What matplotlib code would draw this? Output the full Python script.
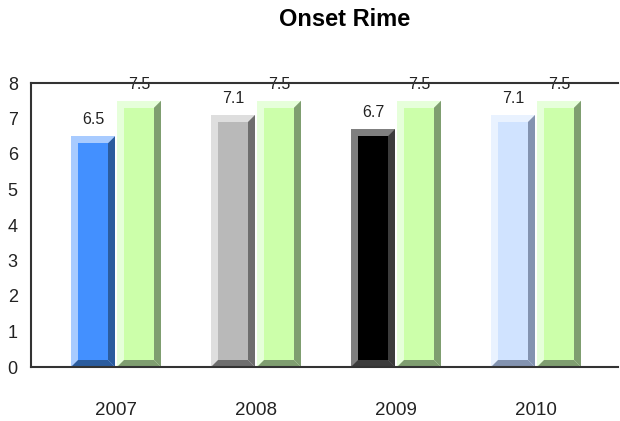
import numpy as np
import matplotlib
matplotlib.use('Agg')
import matplotlib.pyplot as plt
from matplotlib.patches import Polygon, Rectangle

plt.rcParams['font.family'] = ['Liberation Sans', 'DejaVu Sans']

years = ['2007', '2008', '2009', '2010']
actual = [6.5, 7.1, 6.7, 7.1]
target = [7.5, 7.5, 7.5, 7.5]

# (face, highlight, shadow) per bar
actual_cols = [('#4390ff', '#a8cbff', '#2b5c9e'),
               ('#b9b9b9', '#dedede', '#6e6e6e'),
               ('#000000', '#7f7f7f', '#3c3c3c'),
               ('#d0e3ff', '#e9f2ff', '#8393b0')]
target_cols = ('#ccffaa', '#e6ffda', '#7f9e70')

W, H = 620, 421
fig = plt.figure(figsize=(W / 100, H / 100), dpi=100)
ax = fig.add_axes([31 / W, (H - 367) / H, (618 - 31) / W, (367 - 83) / H])

x0_px, step_px = 116, 140
ax.set_xlim((31 - x0_px) / step_px, (618 - x0_px) / step_px)
ax.set_ylim(0, 8)

bw = 44 / step_px
bx = 7 / step_px
by = 7 * 8 / 284


def bevel_bar(xc, h, cols):
    face, hi, sh = cols
    x0, x1 = xc - bw / 2, xc + bw / 2
    ax.add_patch(Rectangle((x0, 0), bw, h, fc=hi, ec='none'))
    ax.add_patch(Polygon([(x1, h), (x1 - bx, h - by), (x1 - bx, by), (x1, 0)],
                         closed=True, fc=sh, ec='none'))
    ax.add_patch(Polygon([(x0, 0), (x0 + bx, by), (x1 - bx, by), (x1, 0)],
                         closed=True, fc=sh, ec='none'))
    ax.add_patch(Rectangle((x0 + bx, by), bw - 2 * bx, h - 2 * by,
                           fc=face, ec='none'))
    ax.text(xc, h + 0.25, '%.1f' % h, ha='center', va='bottom',
            fontsize=11.5, color='#222222', clip_on=False)


off = 23 / step_px
for i in range(len(years)):
    bevel_bar(i - off, actual[i], actual_cols[i])
    bevel_bar(i + off, target[i], target_cols)

ax.set_yticks(range(0, 9))
ax.set_xticks(range(len(years)))
ax.set_xticklabels(years)
ax.tick_params(axis='both', length=0, colors='#222222')
ax.tick_params(axis='y', pad=9.5, labelsize=13)
ax.tick_params(axis='x', pad=25, labelsize=13.5)
ax.spines['right'].set_visible(False)
for s in ['top', 'bottom', 'left']:
    ax.spines[s].set_color('#333333')
    ax.spines[s].set_linewidth(1.5)
    ax.spines[s].set_zorder(5)

fig.text(345 / W, 1 - 20 / H, 'Onset Rime', ha='center', va='center',
         fontsize=17, fontweight='bold')

fig.savefig('out.png', dpi=100)
